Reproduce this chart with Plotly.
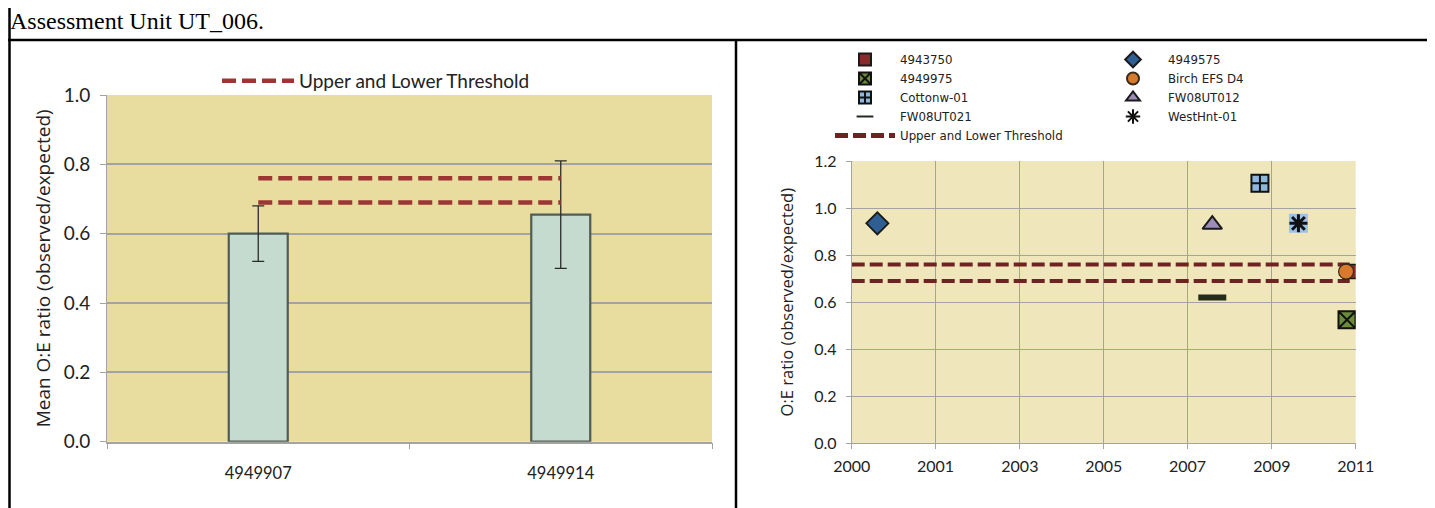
import plotly.graph_objects as go

# ---------------- data ----------------
bar_sites = ["4949907", "4949914"]
bar_means = [0.60, 0.655]
bar_err = [0.08, 0.155]

upper_threshold = 0.76
lower_threshold = 0.69

right_x_ticks = [2000, 2001.83, 2003.67, 2005.5, 2007.33, 2009.17, 2011]
right_x_labels = ["2000", "2001", "2003", "2005", "2007", "2009", "2011"]
thr_x_span = [2000, 2010.87]

s_4943750_x, s_4943750_y = [2010.88], [0.73]
s_4949575_x, s_4949575_y = [2000.56], [0.935]
s_4949975_x, s_4949975_y = [2010.81], [0.525]
s_birch_x, s_birch_y = [2010.79], [0.73]
s_cotton_x, s_cotton_y = [2008.91], [1.105]
s_fw012_x, s_fw012_y = [2007.87], [0.93]
s_fw021_x, s_fw021_y = [2007.87], [0.62]
s_west_x, s_west_y = [2009.75], [0.935]

# the page body adds an 8px offset; figure is sized to fill the rest of the window
OFF = 8
W, H = 1435 - OFF, 508 - OFF
def px(x): return (x - OFF) / W          # page pixel -> paper fraction
def py(y): return (H - (y - OFF)) / H

FONT = "Lato"
TFONT = "Open Sans"
fig = go.Figure()

# ---------------- left chart ----------------
fig.add_trace(go.Bar(
    x=bar_sites, y=bar_means, width=0.195,
    marker=dict(color="#c5dbd0", line=dict(color="#4f5c55", width=2.2)),
    error_y=dict(type="data", array=bar_err, color="#2a2a2a", thickness=1.3, width=6),
    showlegend=False, xaxis="x", yaxis="y"))
fig.add_trace(go.Scatter(
    x=[bar_sites[0], bar_sites[1], None, bar_sites[0], bar_sites[1]],
    y=[upper_threshold, upper_threshold, None, lower_threshold, lower_threshold],
    mode="lines", line=dict(color="#9e3535", width=4.5, dash="14px,6px"),
    name="Upper and Lower Threshold", legend="legend", xaxis="x", yaxis="y"))

# ---------------- right chart ----------------
def mk(xs, ys, name, symbol, color, lcolor="#1a1a1a", lw=1.5, size=14, leg="legend2", show=True):
    fig.add_trace(go.Scatter(
        x=xs, y=ys, mode="markers", name=name, legend=leg, showlegend=show,
        marker=dict(symbol=symbol, color=color, size=size, line=dict(color=lcolor, width=lw)),
        xaxis="x2", yaxis="y2"))

fig.add_trace(go.Scatter(
    x=[thr_x_span[0], thr_x_span[1], None, thr_x_span[0], thr_x_span[1]],
    y=[upper_threshold, upper_threshold, None, lower_threshold, lower_threshold],
    mode="lines", line=dict(color="#6e2222", width=4, dash="13px,5px"),
    name="Upper and Lower Threshold", legend="legend2", legendrank=1005,
    xaxis="x2", yaxis="y2"))

mk(s_4943750_x, s_4943750_y, "4943750", "square", "#8a2a2a", size=14, leg="legend2")
mk(s_4949975_x, s_4949975_y, "4949975", "square-x", "#6b8a3a", lcolor="#111", lw=2, size=17, leg="legend2")
mk(s_cotton_x, s_cotton_y, "Cottonw-01", "square-cross", "#8fb6dd", lcolor="#111", lw=2, size=17, leg="legend2")
mk(s_fw021_x, s_fw021_y, "FW08UT021", "line-ew", "#2a3320", lcolor="#232b1c", lw=6, size=20, leg="legend2")

mk(s_4949575_x, s_4949575_y, "4949575", "diamond", "#2f5f92", lw=1.8, size=17, leg="legend3")
mk(s_birch_x, s_birch_y, "Birch EFS D4", "circle", "#d67a2e", lcolor="#3a2a1a", lw=1.2, size=15, leg="legend3")
mk(s_fw012_x, s_fw012_y, "FW08UT012", "triangle-up", "#9d8cb8", lw=2, size=17, leg="legend3")
mk(s_west_x, s_west_y, "WestHnt-01", "square", "#9cc2ea", lcolor="#9cc2ea", lw=0, size=19, leg="legend3", show=False)
mk(s_west_x, s_west_y, "WestHnt-01", "asterisk-open", "#111", lcolor="#111", lw=3, size=15, leg="legend3")

grid = "#a3a3a3"
leg_small = dict(xanchor="left", yanchor="top", bgcolor="rgba(0,0,0,0)",
                 font=dict(size=11.8, family="DejaVu Sans", color="#222"),
                 tracegroupgap=0, itemwidth=60, itemsizing="constant")
fig.update_layout(
    width=W, height=H, margin=dict(l=0, r=0, t=0, b=0, autoexpand=False),
    paper_bgcolor="white", plot_bgcolor="white",
    font=dict(family=FONT, color="#222"),
    xaxis=dict(domain=[px(107), px(712)], type="category", anchor="y", automargin=False,
               showgrid=False, showline=True, linecolor=grid, linewidth=1.5,
               ticks="outside", tickson="boundaries", ticklen=6, tickcolor=grid,
               ticklabelstandoff=16,
               tickfont=dict(size=16.5, family=FONT), range=[-0.5, 1.5]),
    yaxis=dict(domain=[py(441.7), py(95)], anchor="x", range=[0, 1.0], automargin=False,
               tickvals=[0, 0.2, 0.4, 0.6, 0.8, 1.0], ticktext=["0.0", "0.2", "0.4", "0.6", "0.8", "1.0"],
               showgrid=True, gridcolor=grid, gridwidth=1.5, zeroline=False,
               showline=True, linecolor=grid, ticks="outside", ticklen=6, tickcolor=grid,
               ticklabelstandoff=6,
               tickfont=dict(size=19, family=FONT),
               title=dict(text="Mean O:E ratio (observed/expected)", font=dict(size=19, family=TFONT), standoff=8)),
    xaxis2=dict(domain=[px(851.7), px(1355.7)], anchor="y2", range=[2000, 2011], automargin=False,
                tickvals=right_x_ticks, ticktext=right_x_labels,
                showgrid=True, gridcolor=grid, gridwidth=1.2, zeroline=False,
                showline=True, linecolor=grid, ticks="outside", ticklen=5, tickcolor=grid,
                ticklabelstandoff=3,
                tickfont=dict(size=16, family=FONT)),
    yaxis2=dict(domain=[py(443.3), py(161)], anchor="x2", range=[0, 1.2], automargin=False,
                tickvals=[0, 0.2, 0.4, 0.6, 0.8, 1.0, 1.2],
                ticktext=["0.0", "0.2", "0.4", "0.6", "0.8", "1.0", "1.2"],
                showgrid=True, gridcolor=grid, gridwidth=1.2, zeroline=False,
                showline=True, linecolor=grid, ticks="outside", ticklen=5, tickcolor=grid,
                ticklabelstandoff=6,
                tickfont=dict(size=16, family=FONT),
                title=dict(text="O:E ratio (observed/expected)", font=dict(size=16.5, family=TFONT), standoff=16)),
    legend=dict(x=px(217), y=py(62), xanchor="left", yanchor="top", bgcolor="rgba(0,0,0,0)",
                font=dict(size=19, family=FONT), itemwidth=72),
    legend2=dict(x=px(830), y=py(45), **leg_small),
    legend3=dict(x=px(1098), y=py(45), **leg_small),
    barmode="overlay",
)

fig.add_shape(type="rect", xref="x domain", yref="y domain", x0=0, x1=1, y0=0, y1=1,
              fillcolor="#e8dc9f", line=dict(width=0), layer="below")
fig.add_shape(type="rect", xref="x2 domain", yref="y2 domain", x0=0, x1=1, y0=0, y1=1,
              fillcolor="#efe7bb", line=dict(width=0), layer="below")

black = dict(color="black", width=2.5)
fig.add_shape(type="line", xref="paper", yref="paper", x0=0, x1=px(1434), y0=py(40), y1=py(40), line=black)
fig.add_shape(type="line", xref="paper", yref="paper", x0=px(9.5), x1=px(9.5), y0=0, y1=1, line=black)
fig.add_shape(type="line", xref="paper", yref="paper", x0=px(1433), x1=px(1433), y0=0, y1=1, line=black)
fig.add_shape(type="line", xref="paper", yref="paper", x0=px(736), x1=px(736), y0=0, y1=py(40), line=black)

fig.add_annotation(text="Assessment Unit UT_006.", xref="paper", yref="paper",
                   x=px(8), y=py(21), xanchor="left", yanchor="middle", showarrow=False,
                   font=dict(family="Liberation Serif", size=24, color="black"))

fig.write_html("out.html")
